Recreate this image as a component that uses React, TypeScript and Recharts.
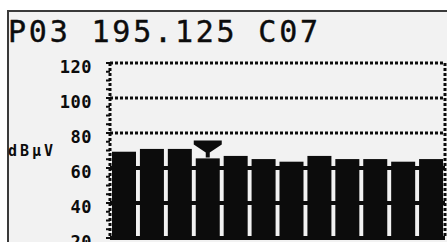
import { BarChart, Bar, XAxis, YAxis, ReferenceLine } from 'recharts';

const CHANNELS = ['C04', 'C05', 'C06', 'C07', 'C08', 'C09', 'C10', 'C11', 'C12', 'C13', 'C14', 'C15'];
const LEVELS = [69.3, 70.9, 70.9, 65.5, 66.9, 65.1, 63.6, 66.9, 65.1, 65.1, 63.6, 65.1];
const SELECTED = 'C07';
const PRESET = 'P03';
const FREQ = '195.125';
const UNIT = 'dBµV';
// minor ticks every 5 dB, labels only on the 20 dB steps
const Y_TICKS = [20, 25, 30, 35, 40, 45, 50, 55, 60, 65, 70, 75, 80, 85, 90, 95, 100, 105, 110, 115, 120];
const DOTTED_LINES = [80, 100, 120];
const SOLID_LINES = [20, 40, 60];

const W = 447;
const H = 242;
const INK = '#0c0c0c';
const LCD_BG = '#f2f2f2';

const data = CHANNELS.map((ch, i) => ({ channel: ch, level: LEVELS[i] }));

// eslint-disable-next-line @typescript-eslint/no-explicit-any
const YTick = ({ x, y, payload }: any) => {
    if (payload.value % 20 !== 0) return <g />;
    return (
        <text
            x={x}
            y={y + 4}
            textAnchor="end"
            dominantBaseline="central"
            fill={INK}
            fontFamily="DejaVu Sans Mono"
            fontWeight="bold"
            fontSize={17}
            letterSpacing={0.5}
        >
            {payload.value}
        </text>
    );
};

// bar + the little "cursor" triangle above the tuned channel
// eslint-disable-next-line @typescript-eslint/no-explicit-any
const LevelBar = ({ x, y, width, height, payload }: any) => {
    const cx = x + width / 2;
    const t = y - 18;
    return (
        <g>
            <rect x={x} y={y} width={width} height={height} fill={INK} />
            {payload.channel === SELECTED && (
                <path
                    d={`M${cx - 14},${t} L${cx + 14},${t} L${cx + 14},${t + 4} L${cx + 2},${t + 12} L${cx + 2},${t + 17} L${cx - 2},${t + 17} L${cx - 2},${t + 12} L${cx - 14},${t + 4} Z`}
                    fill={INK}
                />
            )}
        </g>
    );
};

export default function App() {
    return (
        <div style={{ position: 'fixed', left: 0, top: 0, width: W, height: H, overflow: 'hidden', background: '#fff' }}>
            <div
                style={{
                    position: 'absolute',
                    left: 7,
                    top: 10,
                    right: 0,
                    bottom: 0,
                    background: LCD_BG,
                    borderTop: '2px solid #3a3a3a',
                    borderLeft: '2px solid #3a3a3a',
                }}
            />
            <svg width={W} height={60} style={{ position: 'absolute', left: 0, top: 0 }}>
                <text
                    x={8}
                    y={42}
                    fill={INK}
                    fontFamily="DejaVu Sans Mono"
                    fontSize={30}
                    letterSpacing={2.8}
                    stroke={INK}
                    strokeWidth={0.4}
                >
                    {`${PRESET} ${FREQ} ${SELECTED}`}
                </text>
            </svg>
            <div style={{ position: 'absolute', left: 0, top: 0 }}>
                <BarChart
                    width={W}
                    height={260}
                    data={data}
                    margin={{ top: 63, right: 0, bottom: 22, left: 0 }}
                    barCategoryGap={2}
                >
                    <XAxis dataKey="channel" hide />
                    <YAxis
                        yAxisId="l"
                        width={110}
                        domain={[20, 120]}
                        allowDataOverflow
                        ticks={Y_TICKS}
                        interval={0}
                        tick={<YTick />}
                        tickSize={4}
                        tickMargin={14}
                        tickLine={{ stroke: INK, strokeWidth: 2 }}
                        axisLine={{ stroke: INK, strokeWidth: 3, strokeDasharray: '3 2' }}
                        label={{
                            value: UNIT,
                            position: 'insideLeft',
                            offset: 8,
                            angle: 0,
                            fill: INK,
                            fontFamily: 'DejaVu Sans Mono',
                            fontWeight: 'bold',
                            fontSize: 15,
                            letterSpacing: 3,
                        }}
                    />
                    <YAxis
                        yAxisId="r"
                        orientation="right"
                        width={2}
                        domain={[20, 120]}
                        allowDataOverflow
                        tick={false}
                        tickLine={false}
                        axisLine={{ stroke: INK, strokeWidth: 3, strokeDasharray: '3 2' }}
                    />
                    <Bar yAxisId="l" dataKey="level" shape={<LevelBar />} isAnimationActive={false} />
                    {DOTTED_LINES.map((v) => (
                        <ReferenceLine
                            key={`d${v}`}
                            yAxisId="l"
                            y={v}
                            stroke={INK}
                            strokeWidth={3}
                            strokeDasharray="3 2"
                        />
                    ))}
                    {SOLID_LINES.map((v) => (
                        <ReferenceLine key={`s${v}`} yAxisId="l" y={v} stroke={INK} strokeWidth={4} />
                    ))}
                </BarChart>
            </div>
        </div>
    );
}
